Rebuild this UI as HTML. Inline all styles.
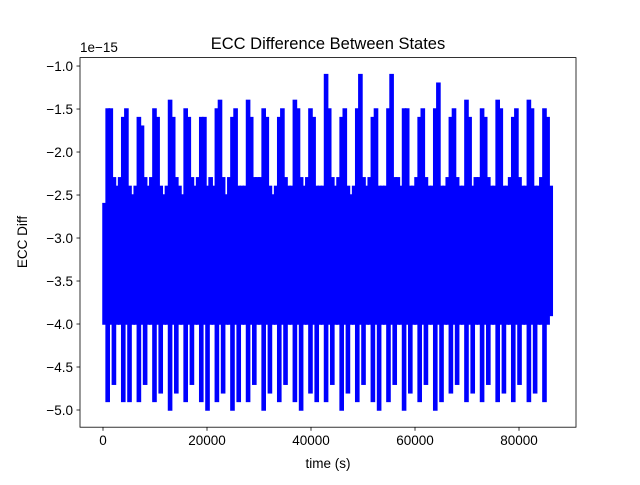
<!DOCTYPE html>
<html><head><meta charset="utf-8"><style>
body{margin:0;background:#fff}
svg text{font-family:"Liberation Sans","DejaVu Sans",sans-serif;fill:#000}
</style></head><body>
<svg id="chart" width="640" height="480">
<rect width="640" height="480" fill="#fff"/>
<g id="plot"></g>
<rect x="80" y="57.6" width="496" height="369.6" fill="none" stroke="#000" stroke-width="0.8"/>
<g id="axes"></g>
<text x="328" y="49" font-size="16.5" text-anchor="middle">ECC Difference Between States</text>
<text x="80" y="52" font-size="13.5">1e−15</text>
<text x="328" y="468" font-size="13.5" text-anchor="middle">time (s)</text>
<text transform="translate(27,242) rotate(-90)" font-size="13.5" text-anchor="middle">ECC Diff</text>
</svg>
<script>
const xTicks=[0,20000,40000,60000,80000];
const xTickLabels=["0","20000","40000","60000","80000"];
const yTicks=[-1.0,-1.5,-2.0,-2.5,-3.0,-3.5,-4.0,-4.5,-5.0];
const yTickLabels=["−1.0","−1.5","−2.0","−2.5","−3.0","−3.5","−4.0","−4.5","−5.0"];
const binSeconds=600;
const highs=[-2.6,-1.5,-1.5,-2.3,-2.4,-2.3,-1.6,-1.5,-2.4,-2.5,-2.4,-1.6,-1.7,-2.3,-2.4,-2.3,-1.5,-1.6,-2.4,-2.5,
-2.4,-1.4,-1.6,-2.3,-2.4,-2.5,-1.5,-1.6,-2.3,-2.4,-2.3,-1.6,-1.6,-2.4,-2.3,-2.4,-1.5,-1.4,-2.3,-2.5,
-2.3,-1.6,-1.5,-2.4,-2.4,-2.4,-1.4,-1.6,-2.3,-2.3,-2.3,-1.5,-1.6,-2.4,-2.5,-2.4,-1.6,-1.5,-2.3,-2.4,
-2.4,-1.4,-1.5,-2.3,-2.4,-2.3,-1.5,-1.6,-2.4,-2.4,-2.4,-1.1,-1.5,-2.3,-2.4,-2.3,-1.6,-1.5,-2.4,-2.5,
-2.4,-1.5,-1.1,-2.3,-2.4,-2.3,-1.6,-1.5,-2.4,-2.4,-2.4,-1.5,-1.1,-2.3,-2.3,-2.4,-1.5,-1.5,-2.4,-2.4,
-2.3,-1.6,-1.5,-2.3,-2.4,-2.4,-1.5,-1.2,-2.4,-2.4,-2.3,-1.6,-1.5,-2.3,-2.4,-2.4,-1.4,-1.6,-2.4,-2.3,
-2.3,-1.5,-1.6,-2.3,-2.4,-2.4,-1.4,-1.5,-2.4,-2.4,-2.3,-1.6,-1.5,-2.3,-2.4,-2.4,-1.4,-1.5,-2.4,-2.4,
-2.3,-1.5,-1.6,-2.4];
const lows=[-4.0,-4.9,-4.0,-4.7,-4.0,-4.0,-4.9,-4.0,-4.9,-4.0,-4.0,-4.9,-4.0,-4.7,-4.0,-4.0,-4.9,-4.0,-4.8,-4.0,
-4.0,-5.0,-4.0,-4.8,-4.0,-4.0,-4.9,-4.0,-4.7,-4.0,-4.0,-4.9,-4.0,-5.0,-4.0,-4.0,-4.9,-4.0,-4.8,-4.0,
-4.0,-5.0,-4.0,-4.9,-4.0,-4.0,-4.9,-4.0,-4.7,-4.0,-4.0,-5.0,-4.0,-4.8,-4.0,-4.0,-4.9,-4.0,-4.7,-4.0,
-4.0,-4.9,-4.0,-5.0,-4.0,-4.0,-4.8,-4.0,-4.9,-4.0,-4.0,-4.9,-4.0,-4.7,-4.0,-4.0,-5.0,-4.0,-4.8,-4.0,
-4.0,-4.9,-4.0,-4.7,-4.0,-4.0,-4.9,-4.0,-5.0,-4.0,-4.0,-4.9,-4.0,-4.7,-4.0,-4.0,-5.0,-4.0,-4.8,-4.0,
-4.0,-4.9,-4.0,-4.7,-4.0,-4.0,-5.0,-4.0,-4.9,-4.0,-4.0,-4.8,-4.0,-4.7,-4.0,-4.0,-4.9,-4.0,-4.8,-4.0,
-4.0,-4.9,-4.0,-4.7,-4.0,-4.0,-4.9,-4.0,-4.8,-4.0,-4.0,-4.9,-4.0,-4.7,-4.0,-4.0,-4.9,-4.0,-4.8,-4.0,
-4.0,-4.9,-4.0,-3.9];
const NS="http://www.w3.org/2000/svg";
const X0=80,X1=576,Y0=57.6,Y1=427.2;
const xMin=-4423,xMax=90961,yMin=-5.2,yMax=-0.902;
function sx(v){return X0+(v-xMin)/(xMax-xMin)*(X1-X0);}
function sy(v){return Y1-(v-yMin)/(yMax-yMin)*(Y1-Y0);}
const plot=document.getElementById('plot');
for(let i=0;i<highs.length;i++){
  const t=i*binSeconds;
  const xa=sx(t)-0.75, xb=sx(t+binSeconds)+0.75;
  const ya=sy(highs[i])-0.75, yb=sy(lows[i])+0.75;
  const r=document.createElementNS(NS,'rect');
  r.setAttribute('x',xa.toFixed(2));r.setAttribute('y',ya.toFixed(2));
  r.setAttribute('width',(xb-xa).toFixed(2));r.setAttribute('height',(yb-ya).toFixed(2));
  r.setAttribute('fill','#0000ff');
  
  
  plot.appendChild(r);
}
const axes=document.getElementById('axes');
xTicks.forEach((v,i)=>{
  const x=sx(v);
  const tk=document.createElementNS(NS,'line');
  tk.setAttribute('x1',x);tk.setAttribute('x2',x);tk.setAttribute('y1',Y1);tk.setAttribute('y2',Y1+3.5);tk.setAttribute('stroke','#000');tk.setAttribute('stroke-width','0.8');
  
  
  axes.appendChild(tk);
  const tx=document.createElementNS(NS,'text');
  tx.setAttribute('x',x);tx.setAttribute('y',Y1+18);tx.setAttribute('font-size','13.5');tx.setAttribute('text-anchor','middle');
  tx.textContent=xTickLabels[i];
  
  
  axes.appendChild(tx);
});
yTicks.forEach((v,i)=>{
  const y=sy(v);
  const tk=document.createElementNS(NS,'line');
  tk.setAttribute('x1',X0-3.5);tk.setAttribute('x2',X0);tk.setAttribute('y1',y);tk.setAttribute('y2',y);tk.setAttribute('stroke','#000');tk.setAttribute('stroke-width','0.8');
  
  
  axes.appendChild(tk);
  const tx=document.createElementNS(NS,'text');
  tx.setAttribute('x',X0-7);tx.setAttribute('y',y+5);tx.setAttribute('font-size','13.5');tx.setAttribute('text-anchor','end');
  tx.textContent=yTickLabels[i];
  
  
  axes.appendChild(tx);
});
</script>
</body></html>
